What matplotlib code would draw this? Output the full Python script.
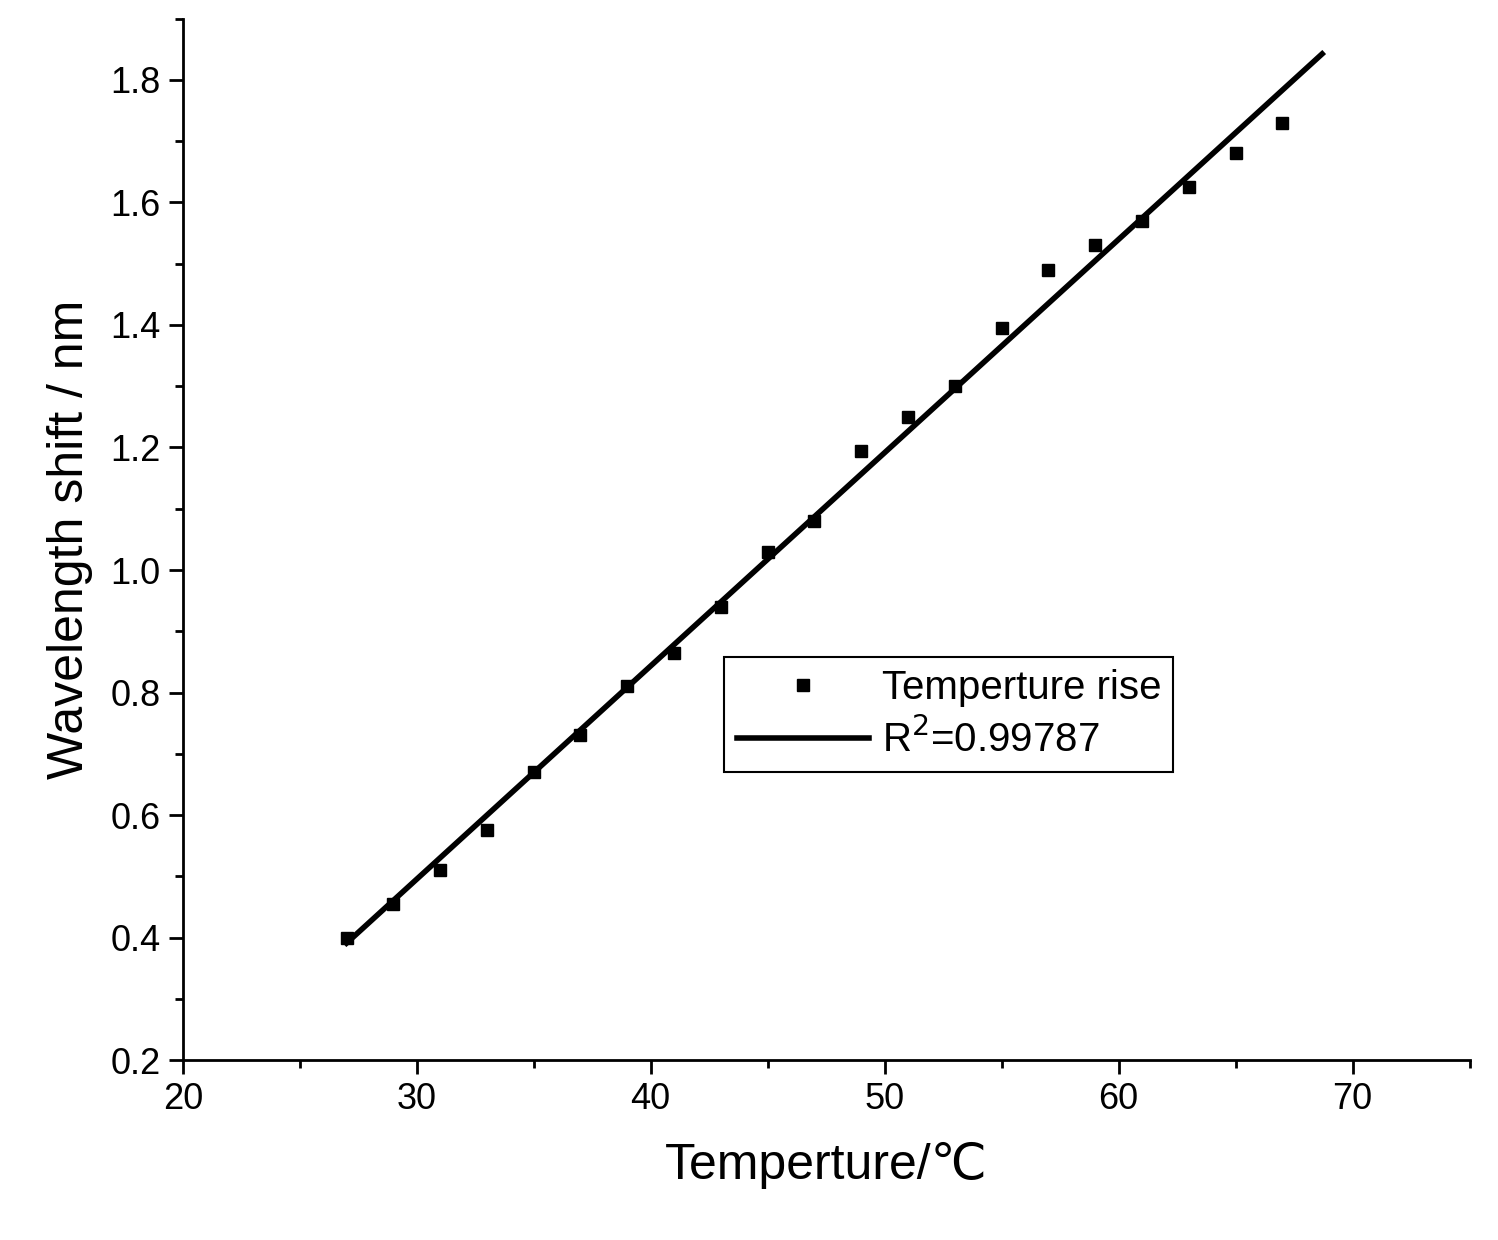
import numpy as np
import matplotlib
matplotlib.use("Agg")
import matplotlib.pyplot as plt
from matplotlib.ticker import MultipleLocator

plt.rcParams['font.family'] = ['Liberation Sans', 'DejaVu Sans']

temperature = [27, 29, 31, 33, 35, 37, 39, 41, 43, 45, 47, 49, 51, 53, 55, 57, 59, 61, 63, 65, 67]
shift = [0.40, 0.455, 0.51, 0.575, 0.67, 0.73, 0.81, 0.865, 0.94, 1.03, 1.08, 1.195,
         1.25, 1.30, 1.395, 1.49, 1.53, 1.57, 1.625, 1.68, 1.73]

fig = plt.figure(figsize=(14.98, 12.4), dpi=100)
ax = fig.add_axes([0.122, 0.145, 0.859, 0.84])

ax.plot(temperature, shift, 's', color='black', markersize=8, label='Temperture rise')
k, b = np.polyfit(temperature, shift, 1)
xf = np.array([27, 68.7])
ax.plot(xf, k * xf + b, '-', color='black', linewidth=4, label='R$^2$=0.99787')

ax.set_xlim(20, 75)
ax.set_ylim(0.2, 1.9)
ax.xaxis.set_minor_locator(MultipleLocator(5))
ax.yaxis.set_major_locator(MultipleLocator(0.2))
ax.yaxis.set_minor_locator(MultipleLocator(0.1))
ax.set_xticks([20, 30, 40, 50, 60, 70])
ax.set_yticks([0.2, 0.4, 0.6, 0.8, 1.0, 1.2, 1.4, 1.6, 1.8])
ax.spines['top'].set_visible(False)
ax.spines['right'].set_visible(False)
for s in ['left', 'bottom']:
    ax.spines[s].set_linewidth(2)
ax.tick_params(which='major', direction='out', length=10, width=2, labelsize=26, pad=6)
ax.tick_params(which='minor', direction='out', length=6, width=2)
ax.set_xlabel('Temperture/℃', fontsize=36, labelpad=18)
ax.set_ylabel('Wavelength shift / nm', fontsize=36, labelpad=12)

leg = ax.legend(loc='upper left', bbox_to_anchor=(0.421, 0.387), fontsize=29,
                frameon=True, fancybox=False, edgecolor='black', handlelength=3.3,
                borderpad=0.3, handletextpad=0.3, borderaxespad=0, labelspacing=0.3)
leg.get_frame().set_linewidth(1.5)
leg.get_frame().set_alpha(1)

fig.savefig('out.png', dpi=100)
